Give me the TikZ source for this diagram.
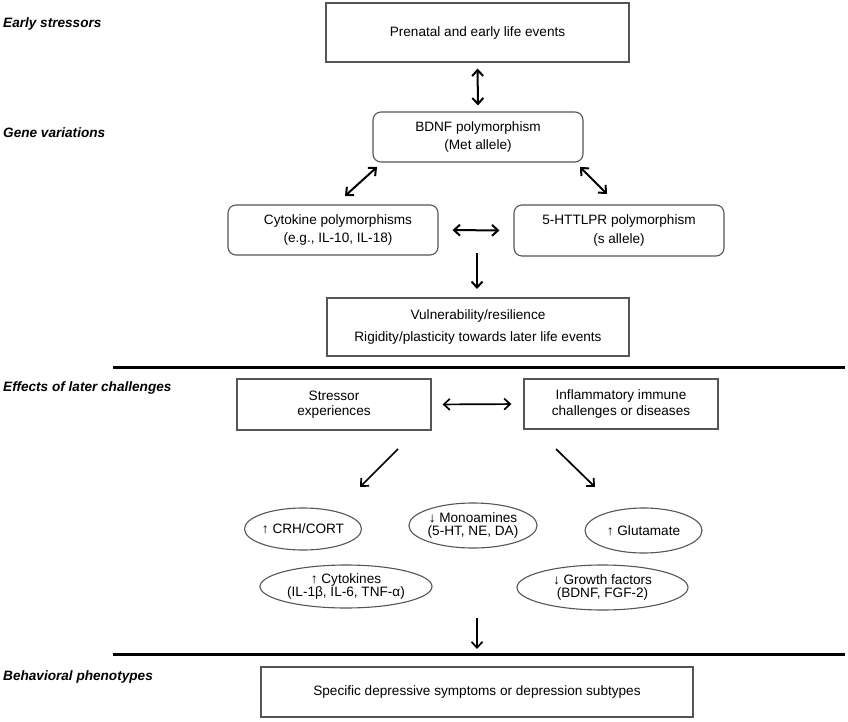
\documentclass[tikz,border=0pt]{standalone}
\usepackage{fontspec}
\setmainfont{Liberation Sans}
\usetikzlibrary{arrows.meta,shapes.geometric}
\definecolor{boxgray}{HTML}{555555}
\begin{document}
\begin{tikzpicture}[x=1pt,y=-1pt,
  every node/.style={inner sep=0pt},
  txt/.style={font=\fontsize{13.6}{#1}\selectfont, align=center},
  txt/.default=18.5,
  sqbox/.style={draw=boxgray, line width=1.1pt},
  rdbox/.style={draw=boxgray, line width=1.1pt, rounded corners=8pt},
  ell/.style={draw=boxgray, line width=1.1pt, ellipse, font=\fontsize{13.6}{13}\selectfont, align=center},
  lbl/.style={font=\fontsize{13.6}{16}\selectfont\bfseries\itshape, anchor=west},
  sep/.style={line width=3pt, black},
  upar/.style={line width=2pt, {Straight Barb[length=6pt,width=11pt]}-{Straight Barb[length=6pt,width=11pt]}},
  upone/.style={line width=2pt, -{Straight Barb[length=6pt,width=11pt]}},
  loar/.style={line width=1.7pt, {Straight Barb[length=6pt,width=11pt]}-{Straight Barb[length=6pt,width=11pt]}},
  loone/.style={line width=1.7pt, -{Straight Barb[length=6pt,width=11pt]}}
]
\useasboundingbox (0,0) rectangle (848,722);

% side labels
\node[lbl] (l1) at (3,24) {Early stressors};
\node[lbl] (l2) at (3,133) {Gene variations};
\node[lbl] (l3) at (3,388) {Effects of later challenges};
\node[lbl] (l4) at (3,677) {Behavioral phenotypes};

% upper section
\node[sqbox, txt, minimum width=303pt, minimum height=59pt] (pre) at (477.5,32.5) {Prenatal and early life events};
\node[rdbox, txt, minimum width=210pt, minimum height=50pt] (bdnf) at (478,137) {BDNF polymorphism\\(Met allele)};
\node[rdbox, txt, minimum width=210pt, minimum height=50pt] (cyt) at (333,230) {\hspace*{10pt}Cytokine polymorphisms\\\hspace*{10pt}(e.g., IL-10, IL-18)};
\node[rdbox, txt, minimum width=210pt, minimum height=51pt] (htt) at (619,230.5) {5-HTTLPR polymorphism\\(s allele)};
\node[sqbox, txt=22, minimum width=302pt, minimum height=58pt] (vul) at (478,327) {Vulnerability/resilience\\Rigidity/plasticity towards later life events};

\draw[upar, shorten <=6pt, shorten >=6pt] (pre.south) -- (bdnf.north);
\coordinate (a1s) at (377,167);
\coordinate (a1e) at (345,196);
\draw[upar] (a1s) -- (a1e);
\coordinate (a2s) at (580,167);
\coordinate (a2e) at (607,194);
\draw[upar] (a2s) -- (a2e);
\draw[upar, shorten <=14pt, shorten >=14pt] (cyt.east) -- (htt.west);
\coordinate (d1s) at (477,253);
\coordinate (d1e) at (477,289);
\draw[upone] (d1s) -- (d1e);

\coordinate (s1a) at (113,367);
\coordinate (s1b) at (845,367);
\draw[sep] (s1a) -- (s1b);

% lower section
\node[sqbox, txt=15.5, minimum width=194pt, minimum height=51pt] (str) at (334,404.5) {Stressor\\experiences};
\node[sqbox, txt=15.5, minimum width=194pt, minimum height=50pt] (inf) at (621,404) {Inflammatory immune\\challenges or diseases};
\draw[loar, shorten <=11pt, shorten >=12pt] (str.east) -- (inf.west);
\coordinate (g1s) at (398,449);
\coordinate (g1e) at (360,487);
\draw[loone] (g1s) -- (g1e);
\coordinate (g2s) at (556,449);
\coordinate (g2e) at (595,487);
\draw[loone] (g2s) -- (g2e);

\node[ell, minimum width=117pt, minimum height=42pt] (crh) at (303,529) {↑ CRH/CORT};
\node[ell, minimum width=117pt, minimum height=45pt] (mono) at (473,525.5) {↓ Monoamines\\(5-HT, NE, DA)};
\node[ell, minimum width=117pt, minimum height=45pt] (glu) at (643.5,530.5) {↑ Glutamate};
\node[ell, minimum width=172pt, minimum height=43pt] (cyk) at (346,586.5) {↑ Cytokines\\(IL-1β, IL-6, TNF-α)};
\node[ell, minimum width=171pt, minimum height=45pt] (gro) at (602.5,587.5) {↓ Growth factors\\(BDNF, FGF-2)};

\coordinate (d2s) at (477,618);
\coordinate (d2e) at (477,649);
\draw[loone] (d2s) -- (d2e);

\coordinate (s2a) at (113,654);
\coordinate (s2b) at (845,654);
\draw[sep] (s2a) -- (s2b);

\node[sqbox, txt, minimum width=432pt, minimum height=50pt] (dep) at (477,692) {Specific depressive symptoms or depression subtypes};
\end{tikzpicture}
\end{document}
